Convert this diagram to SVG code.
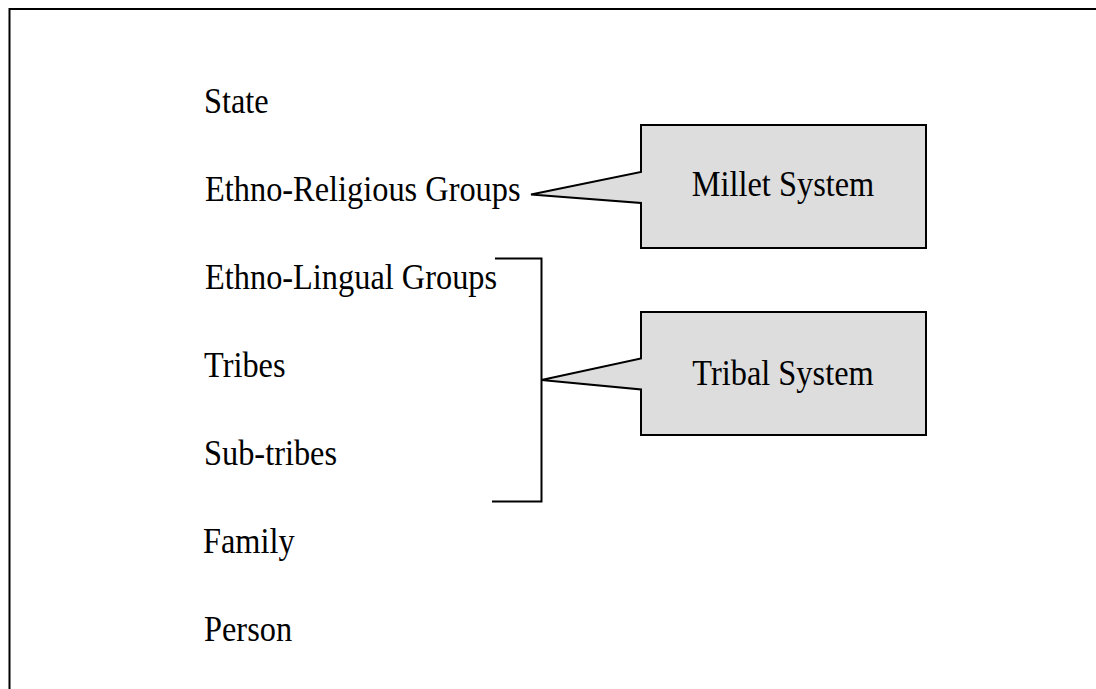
<svg xmlns="http://www.w3.org/2000/svg" width="1096" height="689" viewBox="0 0 1096 689">
  <style>
    .lbl { font-family: "Liberation Serif", "Times New Roman", serif; font-size: 35px; fill: #000; }
    .box { fill: #dddddd; stroke: #000; stroke-width: 2; stroke-linejoin: miter; }
    .line { fill: none; stroke: #000; stroke-width: 2; }
  </style>

  <rect x="0" y="0" width="1096" height="689" fill="#fff"/>

  <!-- page frame (open at the right and bottom) -->
  <path class="line" d="M9.5,689 V9 H1096"/>

  <!-- hierarchy levels -->
  <g id="level-state"><text class="lbl" transform="translate(204,113) scale(0.925,1)">State</text></g>
  <g id="level-ethno-religious"><text class="lbl" transform="translate(205,201) scale(0.925,1)">Ethno-Religious Groups</text></g>
  <g id="level-ethno-lingual"><text class="lbl" transform="translate(205,289) scale(0.925,1)">Ethno-Lingual Groups</text></g>
  <g id="level-tribes"><text class="lbl" transform="translate(204,377) scale(0.925,1)">Tribes</text></g>
  <g id="level-sub-tribes"><text class="lbl" transform="translate(204,465) scale(0.925,1)">Sub-tribes</text></g>
  <g id="level-family"><text class="lbl" transform="translate(203,553) scale(0.925,1)">Family</text></g>
  <g id="level-person"><text class="lbl" transform="translate(204,641) scale(0.925,1)">Person</text></g>

  <!-- connectors: bracket grouping the tribal levels -->
  <g id="connectors">
    <path class="line" d="M495,258.5 H541.5 V501.5 H492"/>
  </g>

  <!-- callout: Millet System -->
  <g id="callout-millet">
    <path class="box" d="M641,125 H926 V248 H641 V203 L531,194.5 L641,172 Z"/>
    <text class="lbl" text-anchor="middle" transform="translate(783,196) scale(0.925,1)">Millet System</text>
  </g>

  <!-- callout: Tribal System -->
  <g id="callout-tribal">
    <path class="box" d="M641,312 H926 V435 H641 V389.5 L541.5,380 L641,358.5 Z"/>
    <text class="lbl" text-anchor="middle" transform="translate(783,385) scale(0.925,1)">Tribal System</text>
  </g>
</svg>
